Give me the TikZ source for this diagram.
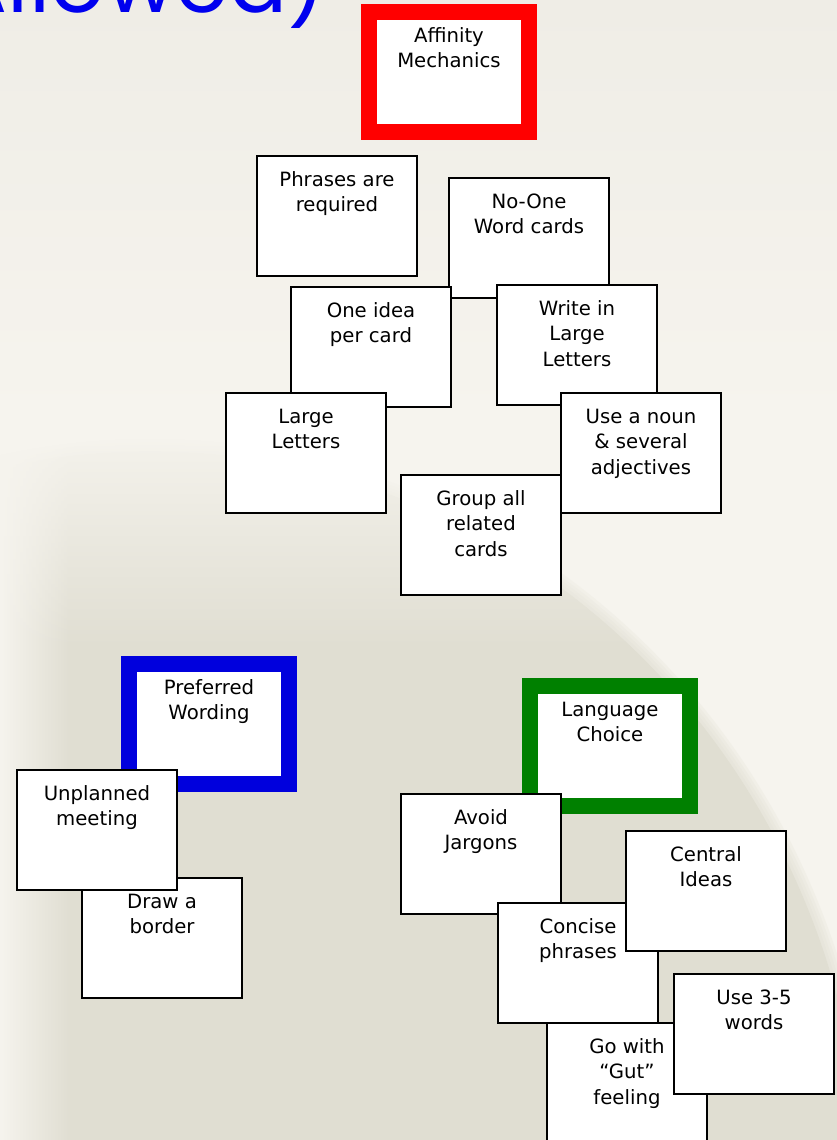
\documentclass[tikz,border=0pt]{standalone}
\usepackage{fontspec}
\usepackage{tikz}
\usetikzlibrary{fadings}
\newfontfamily\cardfont{DejaVu Sans}
\newfontfamily\titlefont{Poppins}
\definecolor{bgtop}{HTML}{EFEDE6}
\definecolor{bglight}{HTML}{F6F4EE}
\definecolor{bgdark}{HTML}{E0DED2}
\definecolor{ink}{HTML}{000000}
\definecolor{titleblue}{HTML}{0000EE}
\definecolor{framered}{HTML}{FF0000}
\definecolor{frameblue}{HTML}{0000DD}
\definecolor{framegreen}{HTML}{008000}
\tikzset{
  card/.style={draw=ink, fill=white, line width=1.1pt, anchor=north west,
    minimum width=3.2cm, minimum height=2.4cm, inner sep=0pt, outer sep=0pt},
  grpframe/.style={card, draw=#1, line width=0.32cm},
  cardtxt/.style={anchor=north, align=center, inner sep=0pt,
    font=\cardfont\fontsize{11.2}{14.5}\selectfont},
  title/.style={text=titleblue, inner sep=0pt,
    font=\titlefont\fontsize{49}{49}\selectfont},
}
% card: [style], name, top-left x, top-left y, text
\newcommand{\card}[5][card]{%
  \node[#1] (#2) at (#3,#4) {};
  \node[cardtxt] (#2t) at ([yshift=-0.24cm]#2.north) {\strut #5};
}

\begin{document}
\begin{tikzpicture}[x=0.02cm, y=-0.02cm]
  \useasboundingbox (0,0) rectangle (837,1140);
  \clip (0,0) rectangle (837,1140);

  % background
  \fill[bglight] (0,0) rectangle (837,1140);
  \shade[top color=bgtop, bottom color=bglight] (0,0) rectangle (837,420);
  \coordinate (sun) at (150,1200);
  \foreach \k in {1,...,4}
    \fill[bgdark, opacity=0.22] (sun) ellipse ({14.28cm+\k*0.06cm} and {14.98cm+\k*0.06cm});
  \fill[bgdark] (sun) ellipse (14.28cm and 14.98cm);
  \fill[bglight, path fading=east] (0,420) rectangle (70,1140);
  \fill[bglight, path fading=south] (0,420) rectangle (640,650);

  \node[title, anchor=base east] (ttl) at (327,12) {Allowed)};

  % top group
  \card[grpframe=framered]{affm}{369}{12}{Affinity\\Mechanics}
  \card{phr}{257}{156}{Phrases are\\required}
  \card{none}{449}{178}{No-One\\Word cards}
  \card{onei}{291}{287}{One idea\\per card}
  \card{writ}{497}{285}{Write in\\Large\\Letters}
  \card{llet}{226}{393}{Large\\Letters}
  \card{noun}{561}{393}{Use a noun\\\& several\\adjectives}
  \card{grp}{401}{475}{Group all\\related\\cards}

  % left group
  \card[grpframe=frameblue]{pref}{129}{664}{Preferred\\Wording}
  \card{brd}{82}{878}{Draw a\\border}
  \card{unpl}{17}{770}{Unplanned\\meeting}

  % right group
  \card[grpframe=framegreen]{lang}{530}{686}{Language\\Choice}
  \card{jarg}{401}{794}{Avoid\\Jargons}
  \card{conc}{498}{903}{Concise\\phrases}
  \card{cent}{626}{831}{Central\\Ideas}
  \card{gut}{547}{1023}{Go with\\“Gut”\\feeling}
  \card{wrds}{674}{974}{Use 3-5\\words}
\end{tikzpicture}
\end{document}
